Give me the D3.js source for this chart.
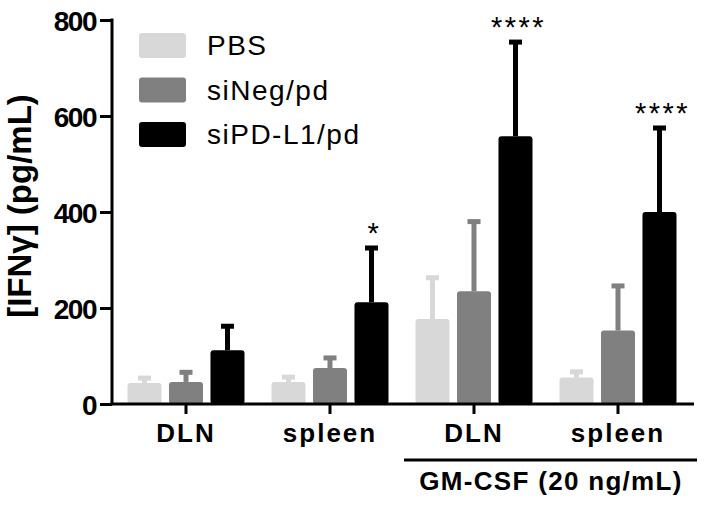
<!DOCTYPE html>
<meta charset="utf-8">
<script src="https://d3js.org/d3.v7.min.js"></script>
<style>
  body { margin: 0; background: #fff; }
  text { font-family: "Liberation Sans", Arial, sans-serif; }
</style>
<div id="my_dataviz"></div>
<script>

// data (mean and SD, pg/mL)
var groups = ["DLN", "spleen", "DLN", "spleen"];
var series = ["PBS", "siNeg/pd", "siPD-L1/pd"];
var colors = ["#d8d8d8", "#808080", "#000000"];
var pbsMean   = [44, 46, 177, 55];
var pbsSD     = [10, 10, 86, 12];
var siNegMean = [46, 75, 235, 153];
var siNegSD   = [20, 21, 145, 93];
var siPDMean  = [112, 212, 558, 400];
var siPDSD    = [50, 113, 196, 175];
var stars     = ["", "*", "****", "****"];
var yTicks    = [0, 200, 400, 600, 800];

var means = [pbsMean, siNegMean, siPDMean];
var sds = [pbsSD, siNegSD, siPDSD];

var width = 704, height = 506;

var svg = d3.select("#my_dataviz")
  .append("svg")
    .attr("width", width)
    .attr("height", height);

var x = d3.scaleBand()
    .domain(d3.range(groups.length))
    .range([114, 690]);

var inner = d3.scaleBand()
    .domain(d3.range(series.length))
    .range([-58.5, 58.5])
    .paddingInner(0.18);

var y = d3.scaleLinear()
    .domain([0, 800])
    .range([404, 20]);

// bars + error bars
series.forEach(function(s, si) {
  var g = svg.append("g");
  var rows = groups.map(function(gr, gi) {
    return {gi: gi, m: means[si][gi], sd: sds[si][gi]};
  });
  g.selectAll("line.err")
    .data(rows)
    .enter().append("line")
      .attr("x1", function(d) { return x(d.gi) + x.bandwidth()/2 + inner(si) + inner.bandwidth()/2; })
      .attr("x2", function(d) { return x(d.gi) + x.bandwidth()/2 + inner(si) + inner.bandwidth()/2; })
      .attr("y1", function(d) { return y(d.m); })
      .attr("y2", function(d) { return y(d.m + d.sd); })
      .style("stroke", colors[si])
      .style("stroke-width", 5);
  g.selectAll("rect.cap")
    .data(rows)
    .enter().append("rect")
      .attr("x", function(d) { return x(d.gi) + x.bandwidth()/2 + inner(si) + inner.bandwidth()/2 - 6.5; })
      .attr("y", function(d) { return y(d.m + d.sd) - 2.5; })
      .attr("width", 13)
      .attr("height", 5)
      .style("fill", colors[si]);
  g.selectAll("rect.bar")
    .data(rows)
    .enter().append("rect")
      .attr("x", function(d) { return x(d.gi) + x.bandwidth()/2 + inner(si); })
      .attr("y", function(d) { return y(d.m); })
      .attr("width", inner.bandwidth())
      .attr("height", function(d) { return y(0) - y(d.m); })
      .attr("rx", 3)
      .style("fill", colors[si]);
});

// significance stars over siPD-L1/pd
svg.selectAll("text.star")
  .data(stars)
  .enter().append("text")
    .attr("x", function(d, i) { return x(i) + x.bandwidth()/2 + inner(2) + inner.bandwidth()/2 + 3; })
    .attr("y", function(d, i) { return y(siPDMean[i] + siPDSD[i]) - 5; })
    .attr("text-anchor", "middle")
    .style("font-size", "29px")
    .style("letter-spacing", "2.5px")
    .text(function(d) { return d; });

// y axis
var yAxis = svg.append("g")
  .attr("transform", "translate(112,0)")
  .call(d3.axisLeft(y).tickValues(yTicks).tickSize(12).tickPadding(4));
yAxis.select(".domain").attr("d", "M0," + (y(800) - 1.5) + "V" + y(0))
  .style("stroke", "#000").style("stroke-width", 3);
yAxis.selectAll(".tick line").style("stroke", "#000").style("stroke-width", 3);
yAxis.selectAll(".tick text")
  .style("font-size", "28px")
  .style("font-weight", "bold")
  .style("letter-spacing", "-1.5px")
  .style("font-family", "'Liberation Sans', Arial, sans-serif")
  .attr("dy", "0.36em");

// x axis
var xAxis = svg.append("g")
  .attr("transform", "translate(0," + y(0) + ")")
  .call(d3.axisBottom(x).tickSize(10).tickFormat(function(i) { return groups[i]; }).tickPadding(10));
xAxis.select(".domain").attr("d", "M110.5,0H694").style("stroke", "#000").style("stroke-width", 3);
xAxis.selectAll(".tick line").style("stroke", "#000").style("stroke-width", 3);
xAxis.selectAll(".tick text")
  .style("font-size", "26px")
  .style("font-weight", "bold")
  .style("letter-spacing", "2px")
  .style("font-family", "'Liberation Sans', Arial, sans-serif");

// GM-CSF bracket
svg.append("line")
  .attr("x1", x(2) + 2).attr("x2", x(3) + x.bandwidth() + 7)
  .attr("y1", 460).attr("y2", 460)
  .style("stroke", "#000").style("stroke-width", 3);
svg.append("text")
  .attr("x", (x(2) + x(3) + x.bandwidth()) / 2 + 5)
  .attr("y", 490)
  .attr("text-anchor", "middle")
  .style("font-size", "26px")
  .style("font-weight", "bold")
  .style("letter-spacing", "1.3px")
  .text("GM-CSF (20 ng/mL)");

// y label
svg.append("text")
  .attr("transform", "translate(31,206) rotate(-90)")
  .attr("text-anchor", "middle")
  .style("font-size", "33px")
  .style("font-weight", "bold")
  .text("[IFNγ] (pg/mL)");

// legend
var legend = svg.append("g");
series.forEach(function(s, i) {
  legend.append("rect")
    .attr("x", 139).attr("y", 33 + i * 44.5)
    .attr("width", 47).attr("height", 25)
    .attr("rx", 3)
    .style("fill", colors[i]);
  legend.append("text")
    .attr("x", 207).attr("y", 55 + i * 44.5)
    .style("font-size", "28px")
    .style("letter-spacing", "1.5px")
    .text(s);
});

</script>
